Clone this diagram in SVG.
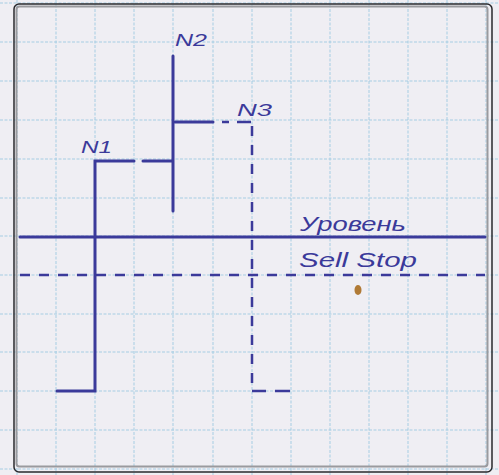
<svg xmlns="http://www.w3.org/2000/svg" width="499" height="475" viewBox="0 0 499 475">
<style>
.grid line{stroke:#a6cde3;stroke-width:1;stroke-dasharray:3 1.5}
.pen{stroke:#3b3a9a;stroke-width:3;fill:none;stroke-linecap:round}
.dash{stroke:#3b3a9a;stroke-width:2.5;fill:none;stroke-dasharray:10 9}
.seg{stroke:#3b3a9a;stroke-width:2.5;fill:none}
.lbl{font-family:"Liberation Sans",sans-serif;font-style:italic;fill:#3b3a9a}
</style>
<rect x="0" y="0" width="499" height="475" fill="#efeef3"/>
<g class="grid">
<line x1="17" y1="0" x2="17" y2="475"/>
<line x1="56" y1="0" x2="56" y2="475"/>
<line x1="95" y1="0" x2="95" y2="475"/>
<line x1="134" y1="0" x2="134" y2="475"/>
<line x1="173" y1="0" x2="173" y2="475"/>
<line x1="213" y1="0" x2="213" y2="475"/>
<line x1="252" y1="0" x2="252" y2="475"/>
<line x1="291" y1="0" x2="291" y2="475"/>
<line x1="330" y1="0" x2="330" y2="475"/>
<line x1="369" y1="0" x2="369" y2="475"/>
<line x1="408" y1="0" x2="408" y2="475"/>
<line x1="447" y1="0" x2="447" y2="475"/>
<line x1="486" y1="0" x2="486" y2="475"/>
<line x1="0" y1="3" x2="499" y2="3"/>
<line x1="0" y1="42" x2="499" y2="42"/>
<line x1="0" y1="81" x2="499" y2="81"/>
<line x1="0" y1="120" x2="499" y2="120"/>
<line x1="0" y1="159" x2="499" y2="159"/>
<line x1="0" y1="198" x2="499" y2="198"/>
<line x1="0" y1="236" x2="499" y2="236"/>
<line x1="0" y1="275" x2="499" y2="275"/>
<line x1="0" y1="314" x2="499" y2="314"/>
<line x1="0" y1="352" x2="499" y2="352"/>
<line x1="0" y1="391" x2="499" y2="391"/>
<line x1="0" y1="430" x2="499" y2="430"/>
<line x1="0" y1="469" x2="499" y2="469"/>
</g>
<g id="frame">
<rect x="16.5" y="6.5" width="471" height="460" rx="3" fill="none" stroke="#9a9a9e" stroke-width="2"/>
<rect x="14" y="4" width="478" height="468" rx="5" fill="none" stroke="#2a2a2e" stroke-width="1.5"/>
</g>
<g id="connectors">
<line class="pen" x1="20" y1="237" x2="485" y2="237" stroke-width="2.2"/>
<line class="dash" x1="20" y1="275" x2="485" y2="275" stroke-width="2" stroke-dasharray="12 8"/>
<polyline class="pen" points="57,391 95,391 95,161 134,161"/>
<line class="pen" x1="143" y1="161" x2="172" y2="161"/>
<line class="pen" x1="173" y1="56" x2="173" y2="211"/>
<line class="pen" x1="175" y1="122" x2="213" y2="122"/>
<line class="seg" x1="222" y1="122" x2="229" y2="122"/>
<line class="seg" x1="237" y1="122" x2="251" y2="122"/>
<line class="dash" x1="252" y1="126" x2="252" y2="391"/>
<line class="seg" x1="252" y1="391" x2="266" y2="391"/>
<line class="seg" x1="275" y1="391" x2="290" y2="391"/>
</g>
<g id="N1"><text class="lbl" x="81" y="153" font-size="17" textLength="31" lengthAdjust="spacingAndGlyphs">N1</text></g>
<g id="N2"><text class="lbl" x="175" y="46" font-size="17" textLength="32" lengthAdjust="spacingAndGlyphs">N2</text></g>
<g id="N3"><text class="lbl" x="237" y="116" font-size="17" textLength="35" lengthAdjust="spacingAndGlyphs">N3</text></g>
<g id="level"><text class="lbl" x="300" y="231" font-size="20" textLength="106" lengthAdjust="spacingAndGlyphs">Уровень</text></g>
<g id="sellstop"><text class="lbl" x="299" y="267" font-size="20" textLength="118" lengthAdjust="spacingAndGlyphs">Sell Stop</text></g>
<ellipse cx="358" cy="290" rx="3.5" ry="5" fill="#b07a35"/>
</svg>
